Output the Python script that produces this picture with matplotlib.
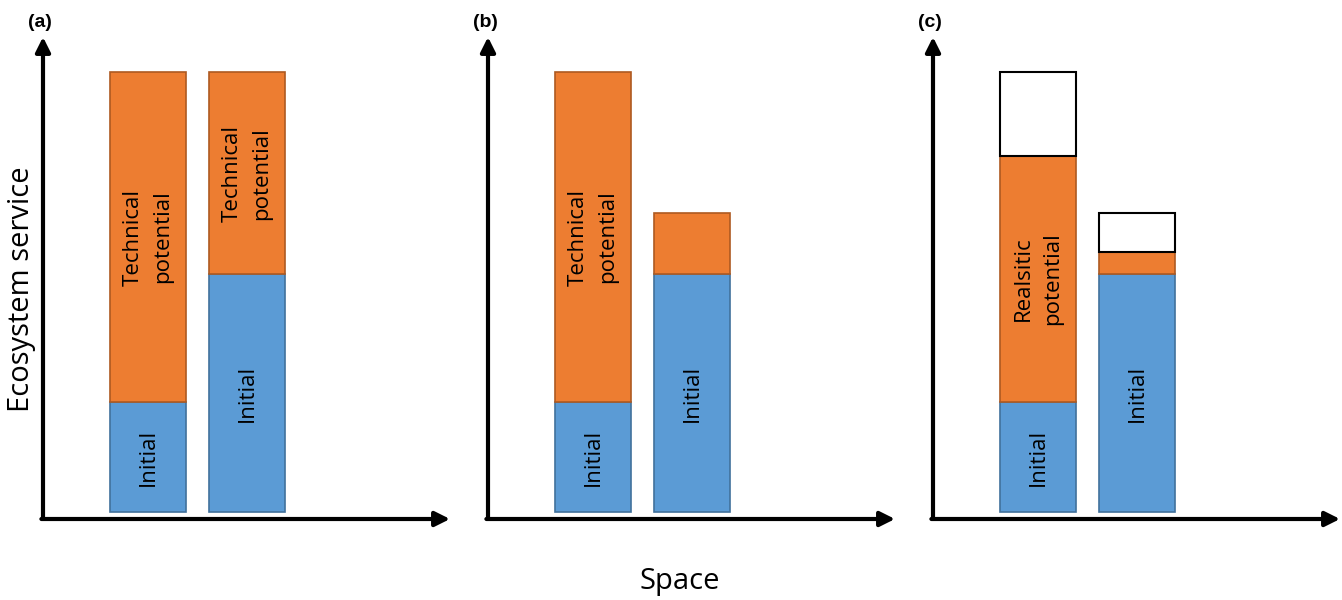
import matplotlib
matplotlib.use("Agg")
import matplotlib.pyplot as plt

plt.rcParams['font.family'] = ['Open Sans', 'DejaVu Sans']

# data (heights in arbitrary "service" units, 100 = technical potential)
panels = ['(a)', '(b)', '(c)']
positions = [1, 2]
initial = {'(a)': [25, 54], '(b)': [25, 54], '(c)': [25, 54]}
potential = {'(a)': [100, 100], '(b)': [100, 68], '(c)': [81, 59]}
technical_top = {'(a)': [100, 100], '(b)': [100, 68], '(c)': [100, 68]}
initial_labels = ['Initial', 'Initial']
potential_labels = {'(a)': ['Technical\npotential', 'Technical\npotential'],
                    '(b)': ['Technical\npotential', ''],
                    '(c)': ['Realsitic\npotential', '']}

blue, blue_edge = '#5B9BD5', '#41719C'
orange, orange_edge = '#ED7D31', '#AE5A21'
width = 0.77

fig = plt.figure(figsize=(13.42, 6), dpi=100)
lefts = [43, 488, 933]
for p, left in zip(panels, lefts):
    ax = fig.add_axes([left / 1342, 81 / 600, 407 / 1342, 482 / 600])
    ax.set_xlim(-0.06, 4.05)
    ax.set_ylim(-1.6, 108)
    for s in ax.spines.values():
        s.set_visible(False)
    ax.set_xticks([])
    ax.set_yticks([])
    ax.patch.set_alpha(0)

    ini = initial[p]
    pot = potential[p]
    tech = technical_top[p]
    ax.bar(positions, ini, width, color=blue, edgecolor=blue_edge, lw=1.2)
    pot_h = [b - a for a, b in zip(ini, pot)]
    ax.bar(positions, pot_h, width, bottom=ini, color=orange, edgecolor=orange_edge, lw=1.2)
    if p == '(c)':
        gap = [b - a for a, b in zip(pot, tech)]
        ax.bar(positions, gap, width, bottom=pot, color='white', edgecolor='black', lw=1.5)

    for x, a, b, lab, plab in zip(positions, ini, pot, initial_labels, potential_labels[p]):
        ax.text(x, a / 2, lab, rotation=90, ha='center', va='center', fontsize=16)
        if plab:
            ax.text(x, (a + b) / 2, plab, rotation=90, ha='center', va='center',
                    fontsize=16, linespacing=1.5)

    arrow = dict(arrowstyle='-|>', lw=3, color='black', mutation_scale=22,
                 shrinkA=0, shrinkB=0)
    ax.annotate('', xy=(0, 1), xytext=(0, 0), xycoords='axes fraction',
                arrowprops=arrow, annotation_clip=False)
    ax.annotate('', xy=(1, 0), xytext=(-0.004, 0), xycoords='axes fraction',
                arrowprops=arrow, annotation_clip=False)
    ax.text(-0.007, 1.031, p, transform=ax.transAxes, ha='center', va='center',
            fontsize=14, fontweight='bold', family=['Liberation Sans', 'DejaVu Sans'])

fig.text(22 / 1342, 1 - 289 / 600, 'Ecosystem service', rotation=90,
         ha='center', va='center', fontsize=21)
fig.text(680 / 1342, 1 - 582 / 600, 'Space', ha='center', va='center', fontsize=21)

fig.savefig('out.png', dpi=100)
